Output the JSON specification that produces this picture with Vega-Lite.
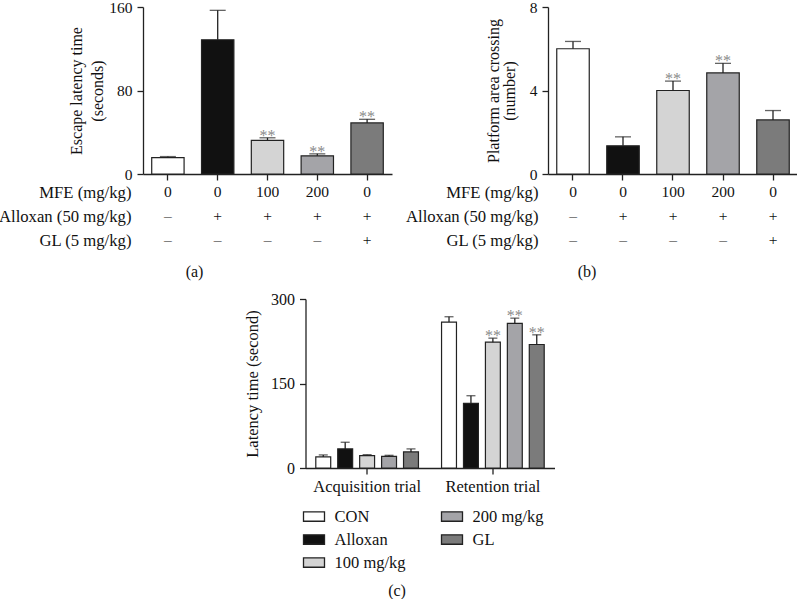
{
  "$schema": "https://vega.github.io/schema/vega-lite/v6.json",
  "padding": {"left": -2, "top": 0, "right": 0, "bottom": 0},
  "background": "white",
  "config": {
    "font": "Liberation Serif",
    "view": {"stroke": null},
    "axis": {"grid": false, "domainColor": "#222", "domainWidth": 1.3, "tickColor": "#222", "tickWidth": 1.3, "tickSize": 6, "labelPadding": 5, "labelColor": "#111", "titleColor": "#111", "labelFont": "Liberation Serif", "titleFont": "Liberation Serif", "titleFontWeight": "normal", "labelFontSize": 15.5, "titleFontSize": 16},
    "title": {"font": "Liberation Serif", "fontWeight": "normal", "fontSize": 16, "color": "#111"},
    "legend": {"labelFont": "Liberation Serif"}
  },
  "datasets": {
    "a": [
      {"g": "0|–|–", "grp": "CON", "v": 15.7, "hi": 16.7, "sig": false},
      {"g": "0|+|–", "grp": "Alloxan", "v": 128.6, "hi": 156.8, "sig": false},
      {"g": "100|+|–", "grp": "100 mg/kg", "v": 32.2, "hi": 34.7, "sig": true},
      {"g": "200|+|–", "grp": "200 mg/kg", "v": 17.4, "hi": 19.3, "sig": true},
      {"g": "0|+|+", "grp": "GL", "v": 48.9, "hi": 52.4, "sig": true}
    ],
    "b": [
      {"g": "0|–|–", "grp": "CON", "v": 6.0, "hi": 6.35, "sig": false},
      {"g": "0|+|–", "grp": "Alloxan", "v": 1.35, "hi": 1.78, "sig": false},
      {"g": "100|+|–", "grp": "100 mg/kg", "v": 4.0, "hi": 4.45, "sig": true},
      {"g": "200|+|–", "grp": "200 mg/kg", "v": 4.84, "hi": 5.3, "sig": true},
      {"g": "0|+|+", "grp": "GL", "v": 2.59, "hi": 3.04, "sig": false}
    ],
    "c": [
      {"trial": "Acquisition trial", "grp": "CON", "v": 19.6, "hi": 23.2, "sig": false},
      {"trial": "Acquisition trial", "grp": "Alloxan", "v": 33.9, "hi": 45.7, "sig": false},
      {"trial": "Acquisition trial", "grp": "100 mg/kg", "v": 21.9, "hi": 23.7, "sig": false},
      {"trial": "Acquisition trial", "grp": "200 mg/kg", "v": 20.7, "hi": 22.5, "sig": false},
      {"trial": "Acquisition trial", "grp": "GL", "v": 28.5, "hi": 33.9, "sig": false},
      {"trial": "Retention trial", "grp": "CON", "v": 259, "hi": 268.5, "sig": false},
      {"trial": "Retention trial", "grp": "Alloxan", "v": 114.6, "hi": 128.3, "sig": false},
      {"trial": "Retention trial", "grp": "100 mg/kg", "v": 223.4, "hi": 230.5, "sig": true},
      {"trial": "Retention trial", "grp": "200 mg/kg", "v": 256.7, "hi": 266, "sig": true},
      {"trial": "Retention trial", "grp": "GL", "v": 219.2, "hi": 236.4, "sig": true}
    ]
  },
  "resolve": {"scale": {"color": "independent"}, "legend": {"color": "independent"}},
  "spacing": 11,
  "center": true,
  "vconcat": [
    {
      "spacing": 13,
      "hconcat": [
        {
          "width": 249, "height": 167,
          "data": {"name": "a"},
          "title": {"text": "(a)", "orient": "bottom", "frame": "group", "anchor": "middle", "dx": -73, "offset": 15},
          "encoding": {
            "x": {"field": "g", "type": "nominal", "sort": null,
              "scale": {"paddingInner": 0.35, "paddingOuter": 0.175},
              "axis": {"labelAngle": 0, "labelExpr": "split(datum.label, '|')", "labelFontSize": 15.5, "labelLineHeight": 24, "labelPadding": 4, "labelBaseline": "top",
                "title": ["MFE (mg/kg)", "Alloxan (50 mg/kg)", "GL (5 mg/kg)"], "titleFontSize": 16.7, "titleLineHeight": 24, "titleAlign": "right", "titleBaseline": "top", "titleX": -12, "titleY": 10}}
          },
          "layer": [
            {"mark": {"type": "bar", "stroke": "#222", "strokeWidth": 1.2},
             "encoding": {
               "y": {"field": "v", "type": "quantitative", "scale": {"domain": [0, 160], "nice": false},
                 "axis": {"values": [0, 80, 160], "title": ["Escape latency time", "(seconds)"], "titleLineHeight": 21, "titlePadding": 3}},
               "color": {"field": "grp", "type": "nominal", "legend": null,
                 "scale": {"domain": ["CON", "Alloxan", "100 mg/kg", "200 mg/kg", "GL"], "range": ["#ffffff", "#111111", "#d4d4d4", "#a4a4a8", "#7b7b7b"]}}
             }},
            {"mark": {"type": "rule", "color": "#222", "strokeWidth": 1.3},
             "encoding": {"y": {"field": "v", "type": "quantitative"}, "y2": {"field": "hi"}}},
            {"mark": {"type": "tick", "color": "#222", "thickness": 1.3, "size": 16},
             "encoding": {"y": {"field": "hi", "type": "quantitative"}}},
            {"transform": [{"filter": "datum.sig"}],
             "mark": {"type": "text", "color": "#8a8a8a", "fontSize": 16, "baseline": "alphabetic", "dy": 3},
             "encoding": {"y": {"field": "hi", "type": "quantitative"}, "text": {"value": "**"}}}
          ]
        },
        {
          "width": 250, "height": 167,
          "data": {"name": "b"},
          "title": {"text": "(b)", "orient": "bottom", "frame": "group", "anchor": "middle", "dx": -86, "offset": 15},
          "encoding": {
            "x": {"field": "g", "type": "nominal", "sort": null,
              "scale": {"paddingInner": 0.35, "paddingOuter": 0.175},
              "axis": {"labelAngle": 0, "labelExpr": "split(datum.label, '|')", "labelFontSize": 15.5, "labelLineHeight": 24, "labelPadding": 4, "labelBaseline": "top",
                "title": ["MFE (mg/kg)", "Alloxan (50 mg/kg)", "GL (5 mg/kg)"], "titleFontSize": 16.7, "titleLineHeight": 24, "titleAlign": "right", "titleBaseline": "top", "titleX": -10, "titleY": 10}}
          },
          "layer": [
            {"mark": {"type": "bar", "stroke": "#222", "strokeWidth": 1.2},
             "encoding": {
               "y": {"field": "v", "type": "quantitative", "scale": {"domain": [0, 8], "nice": false},
                 "axis": {"values": [0, 4, 8], "title": ["Platform area crossing", "(number)"], "titleLineHeight": 16, "titlePadding": 12}},
               "color": {"field": "grp", "type": "nominal", "legend": null,
                 "scale": {"domain": ["CON", "Alloxan", "100 mg/kg", "200 mg/kg", "GL"], "range": ["#ffffff", "#111111", "#d4d4d4", "#a4a4a8", "#7b7b7b"]}}
             }},
            {"mark": {"type": "rule", "color": "#222", "strokeWidth": 1.3},
             "encoding": {"y": {"field": "v", "type": "quantitative"}, "y2": {"field": "hi"}}},
            {"mark": {"type": "tick", "color": "#222", "thickness": 1.3, "size": 16},
             "encoding": {"y": {"field": "hi", "type": "quantitative"}}},
            {"transform": [{"filter": "datum.sig"}],
             "mark": {"type": "text", "color": "#8a8a8a", "fontSize": 16, "baseline": "alphabetic", "dy": 3},
             "encoding": {"y": {"field": "hi", "type": "quantitative"}, "text": {"value": "**"}}}
          ]
        }
      ]
    },
    {
      "width": 249, "height": 169,
      "data": {"name": "c"},
      "title": {"text": "(c)", "orient": "bottom", "frame": "group", "anchor": "middle", "dx": -33, "offset": 12},
      "resolve": {"axis": {"y": "independent"}},
      "encoding": {
        "x": {"field": "trial", "type": "nominal", "sort": null,
          "scale": {"paddingInner": 0.1, "paddingOuter": 0.04},
          "axis": {"labelAngle": 0, "labelFontSize": 16.5, "labelPadding": 4, "title": null}},
        "xOffset": {"field": "grp", "type": "nominal",
          "scale": {"domain": ["CON", "Alloxan", "100 mg/kg", "200 mg/kg", "GL"], "paddingInner": 0.32, "paddingOuter": 0.24}}
      },
      "layer": [
        {"mark": {"type": "bar", "stroke": "#222", "strokeWidth": 1.2},
         "encoding": {
           "y": {"field": "v", "type": "quantitative", "scale": {"domain": [0, 300], "nice": false},
             "axis": {"values": [0, 150, 300], "labelFontSize": 16, "title": "Latency time (second)", "titleFontSize": 16.5, "titlePadding": 10}},
           "color": {"field": "grp", "type": "nominal",
             "scale": {"domain": ["CON", "Alloxan", "100 mg/kg", "200 mg/kg", "GL"], "range": ["#ffffff", "#111111", "#d4d4d4", "#a4a4a8", "#7b7b7b"]},
             "legend": {"orient": "none", "legendX": -3, "legendY": 206, "title": null, "columns": 2, "direction": "vertical", "symbolType": "M-1,-0.45H1V0.45H-1Z", "symbolSize": 441, "symbolStrokeColor": "#222", "symbolStrokeWidth": 1.3, "labelFontSize": 16.5, "labelColor": "#111", "labelOffset": 9, "rowPadding": 3, "columnPadding": 32}}
         }},
        {"mark": {"type": "rule", "color": "#222", "strokeWidth": 1.3},
         "encoding": {"y": {"field": "v", "type": "quantitative",
           "axis": {"orient": "right", "labels": false, "ticks": false, "domain": false, "grid": false, "title": null, "minExtent": 81, "maxExtent": 81}},
           "y2": {"field": "hi"}}},
        {"mark": {"type": "tick", "color": "#222", "thickness": 1.3, "size": 9},
         "encoding": {"y": {"field": "hi", "type": "quantitative", "axis": null}}},
        {"transform": [{"filter": "datum.sig"}],
         "mark": {"type": "text", "color": "#8a8a8a", "fontSize": 16, "baseline": "alphabetic", "dy": 3},
         "encoding": {"y": {"field": "hi", "type": "quantitative", "axis": null}, "text": {"value": "**"}}}
      ]
    }
  ]
}
